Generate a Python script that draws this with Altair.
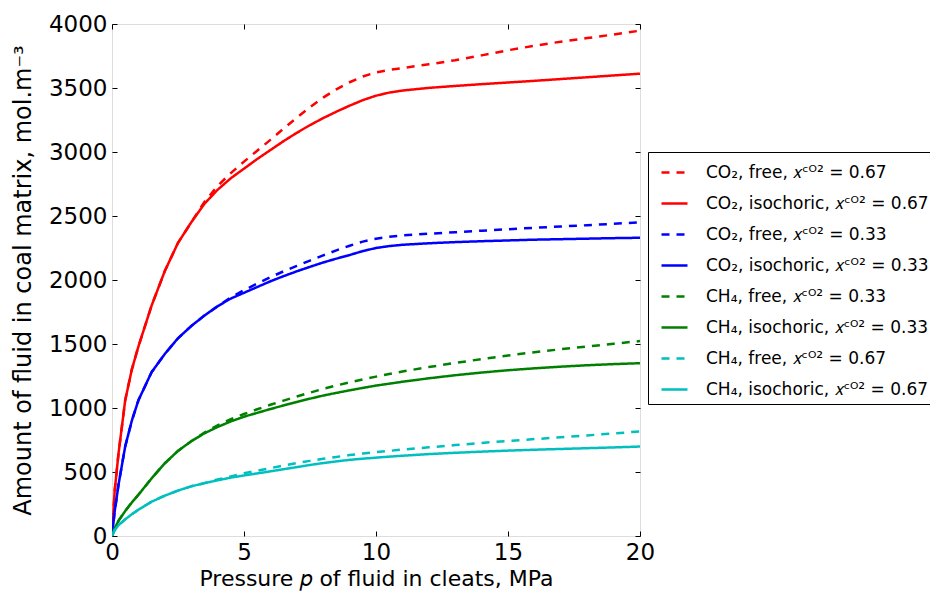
import altair as alt
import pandas as pd

pressure = [0, 0.1, 0.25, 0.5, 0.75, 1, 1.5, 2, 2.5, 3, 3.5, 4, 4.5, 5, 5.5, 6, 6.5, 7, 7.5,
            8, 8.5, 9, 9.5, 10, 10.5, 11, 12, 13, 14, 15, 16, 17, 18, 19, 20]

co2_free_067 = [0, 350, 650, 1060, 1300, 1480, 1800, 2070, 2290, 2450, 2610, 2735, 2835, 2925, 3010,
                3095, 3183, 3268, 3350, 3425, 3490, 3545, 3590, 3622, 3642, 3656, 3685, 3717, 3755,
                3795, 3830, 3862, 3890, 3918, 3948]
co2_iso_067 = [0, 350, 650, 1060, 1300, 1480, 1800, 2070, 2290, 2450, 2595, 2705, 2795, 2870, 2945,
               3015, 3085, 3150, 3210, 3265, 3315, 3362, 3405, 3440, 3464, 3480, 3501, 3516, 3530,
               3543, 3556, 3570, 3584, 3598, 3612]
co2_free_033 = [0, 190, 405, 700, 900, 1060, 1280, 1422, 1545, 1640, 1722, 1795, 1865, 1920, 1972,
                2022, 2068, 2110, 2152, 2192, 2232, 2268, 2300, 2323, 2337, 2348, 2362, 2373, 2385,
                2397, 2408, 2418, 2428, 2439, 2450]
co2_iso_033 = [0, 190, 405, 700, 900, 1060, 1280, 1422, 1545, 1640, 1722, 1795, 1855, 1900, 1945,
               1990, 2030, 2068, 2103, 2137, 2167, 2195, 2226, 2250, 2265, 2275, 2287, 2296, 2303,
               2309, 2315, 2319, 2323, 2327, 2330]
ch4_free_033 = [0, 60, 120, 195, 262, 322, 450, 568, 665, 740, 808, 865, 912, 953, 990,
                1025, 1058, 1090, 1120, 1150, 1176, 1200, 1223, 1245, 1265, 1285, 1320, 1352, 1382,
                1410, 1436, 1459, 1481, 1502, 1523]
ch4_iso_033 = [0, 60, 120, 195, 262, 322, 450, 568, 665, 740, 802, 852, 895, 932, 962,
               992, 1020, 1047, 1073, 1097, 1118, 1138, 1157, 1175, 1190, 1205, 1232, 1256, 1277,
               1295, 1310, 1323, 1334, 1343, 1350]
ch4_free_067 = [0, 45, 85, 130, 170, 205, 268, 315, 355, 388, 413, 442, 465, 490, 510,
                530, 550, 570, 587, 603, 618, 632, 644, 655, 665, 675, 693, 710, 727,
                742, 757, 771, 786, 801, 817]
ch4_iso_067 = [0, 45, 85, 130, 170, 205, 268, 315, 355, 388, 413, 435, 456, 473, 489,
               505, 522, 538, 555, 570, 583, 595, 604, 612, 620, 627, 640, 650, 659,
               667, 674, 680, 686, 692, 699]

sup = "\U0001D465\u1D9C\u1D3C\u00B2"
series_labels = [
    f"CO\u2082, free, {sup}  = 0.67",
    f"CO\u2082, isochoric, {sup}  = 0.67",
    f"CO\u2082, free, {sup}  = 0.33",
    f"CO\u2082, isochoric, {sup}  = 0.33",
    f"CH\u2084, free, {sup}  = 0.33",
    f"CH\u2084, isochoric, {sup}  = 0.33",
    f"CH\u2084, free, {sup}  = 0.67",
    f"CH\u2084, isochoric, {sup}  = 0.67",
]
series_values = [co2_free_067, co2_iso_067, co2_free_033, co2_iso_033,
                 ch4_free_033, ch4_iso_033, ch4_free_067, ch4_iso_067]
series_colors = ["#ff0000", "#ff0000", "#0000ff", "#0000ff",
                 "#008000", "#008000", "#00bfbf", "#00bfbf"]
dash_free = [8, 7]
dash_solid = [1, 0]
series_dashes = [dash_free, dash_solid] * 4

x_ticks = [0, 5, 10, 15, 20]
y_ticks = [0, 500, 1000, 1500, 2000, 2500, 3000, 3500, 4000]

rows = []
for lab, vals in zip(series_labels, series_values):
    for p, v in zip(pressure, vals):
        rows.append({"p": p, "v": v, "series": lab})
df = pd.DataFrame(rows)

W, H = 528, 512
FONT = "DejaVu Sans"
INWARD = {"expr": "-5"}

xscale = alt.Scale(domain=[0, 20], nice=False, zero=False)
yscale = alt.Scale(domain=[0, 4000], nice=False, zero=False)

main = alt.Chart(df).mark_line(strokeWidth=2.5, clip=True).encode(
    x=alt.X("p:Q", scale=xscale, axis=alt.Axis(
        orient="bottom", values=x_ticks, ticks=True, tickSize=INWARD, tickColor="black",
        domain=False, grid=False, format="d",
        labelFontSize=23, labelFont=FONT, labelColor="black", labelPadding=10,
        labelFlush=False, labelOverlap=False,
        title="Pressure \U0001D45D of fluid in cleats, MPa", titleFontSize=22,
        titleFont=FONT, titleFontWeight="normal", titleColor="black", titlePadding=4)),
    y=alt.Y("v:Q", scale=yscale, axis=alt.Axis(
        orient="left", values=y_ticks, ticks=True, tickSize=INWARD, tickColor="black",
        domain=False, grid=False, format="d",
        labelFontSize=23, labelFont=FONT, labelColor="black", labelPadding=10,
        labelFlush=False, labelOverlap=False,
        title="Amount of fluid in coal matrix, mol.m\u207B\u00B3", titleFontSize=24,
        titleFont=FONT, titleFontWeight="normal", titleColor="black", titlePadding=13)),
    color=alt.Color("series:N", scale=alt.Scale(domain=series_labels, range=series_colors),
                    legend=alt.Legend(
                        title=None, orient="none", legendX=536, legendY=128,
                        symbolType="stroke", symbolSize=676, symbolStrokeWidth=2.5,
                        symbolOffset=6, labelOffset=17, rowPadding=8,
                        labelFontSize=17, labelFont=FONT, labelColor="black",
                        labelLimit=400, padding=6, strokeColor="black",
                        fillColor="white", cornerRadius=0)),
    strokeDash=alt.StrokeDash("series:N", scale=alt.Scale(domain=series_labels, range=series_dashes),
                              legend=None),
    detail="series:N",
)

tick_axis = dict(labels=False, domain=False, grid=False, ticks=True, tickSize=INWARD,
                 tickColor="black", tickWidth=1, title=None)

ticks_top_right = alt.Chart(df).mark_point(opacity=0).encode(
    x=alt.X("p:Q", scale=xscale, axis=alt.Axis(orient="top", values=x_ticks, **tick_axis)),
    y=alt.Y("v:Q", scale=yscale, axis=alt.Axis(orient="right", values=y_ticks, **tick_axis)),
)

chart = alt.layer(main, ticks_top_right).resolve_scale(
    x="shared", y="shared"
).resolve_axis(
    x="independent", y="independent"
).properties(
    width=W, height=H,
    autosize=alt.AutoSizeParams(type="none"),
    padding={"left": 104, "top": 16, "right": 290, "bottom": 55},
).configure_view(
    stroke="black", strokeWidth=1
).configure(
    font=FONT, background="white"
)

chart.save("out.html", embed_options={"renderer": "svg", "actions": False})
